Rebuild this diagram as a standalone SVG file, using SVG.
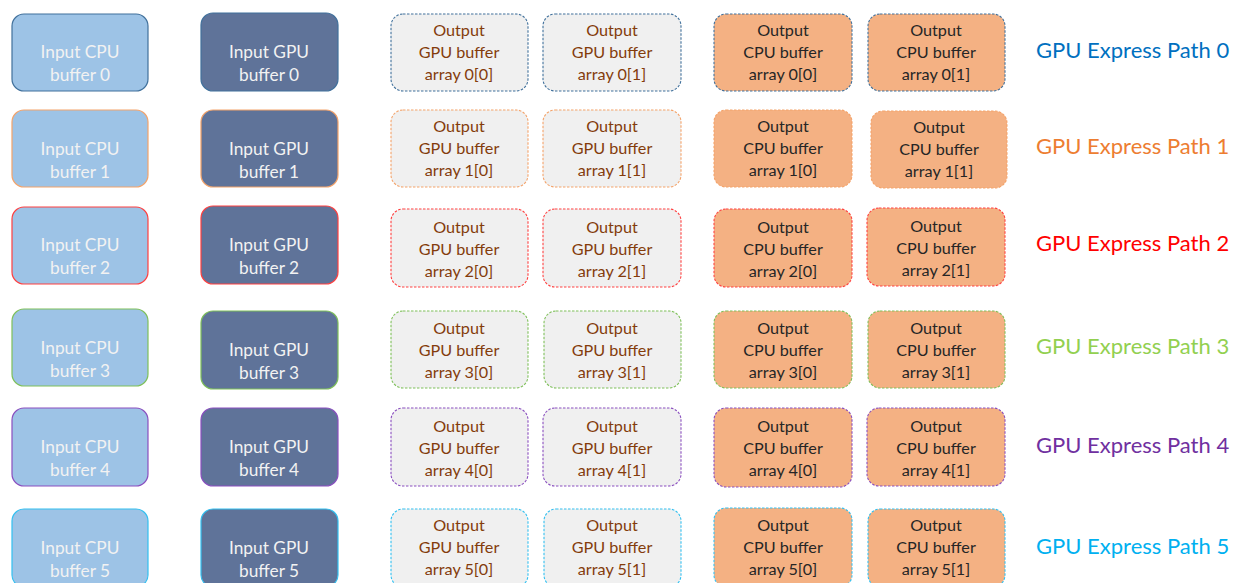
<svg xmlns="http://www.w3.org/2000/svg" width="1234" height="583" viewBox="0 0 1234 583">
<style>
text{font-family:Lato,"Open Sans","Liberation Sans",sans-serif;text-anchor:middle;}
.box{stroke-width:1.2;}
.icpu{fill:#9DC3E6;}
.igpu{fill:#5F7399;}
.ogpu{fill:#F0F0F0;stroke-dasharray:2.5 1.5;stroke-width:1.1;}
.ocpu{fill:#F4B183;stroke-dasharray:2.5 1.5;stroke-width:1.1;}
.ti{fill:#F2F2F2;font-size:17.3px;}
.tg{fill:#843C0C;font-size:16.2px;}
.tc{fill:#262626;font-size:16.2px;}
.lab{font-size:22px;text-anchor:start;}
.r0{stroke:#41719C;} .r1{stroke:#F4A36A;} .r2{stroke:#FF4040;} .r3{stroke:#7FC05A;} .r4{stroke:#8A4FBF;} .r5{stroke:#33C0F0;}
</style>
<rect width="1234" height="583" fill="#FFFFFF"/>
<g id="connectors"></g>

<!-- Row 0 -->
<g id="in-cpu-0"><rect class="box icpu r0" x="12" y="14" width="136" height="77" rx="12"/><text class="ti" x="80" y="58">Input CPU</text><text class="ti" x="80" y="81">buffer 0</text></g>
<g id="in-gpu-0"><rect class="box igpu r0" x="201" y="13" width="137" height="78" rx="12"/><text class="ti" x="269" y="58">Input GPU</text><text class="ti" x="269" y="81">buffer 0</text></g>
<g id="out-gpu-0-0"><rect class="box ogpu r0" x="391" y="14" width="137" height="77" rx="12"/><text class="tg" x="459" y="36">Output</text><text class="tg" x="459" y="58">GPU buffer</text><text class="tg" x="459" y="80">array 0[0]</text></g>
<g id="out-gpu-0-1"><rect class="box ogpu r0" x="543" y="14" width="138" height="77" rx="12"/><text class="tg" x="612" y="36">Output</text><text class="tg" x="612" y="58">GPU buffer</text><text class="tg" x="612" y="80">array 0[1]</text></g>
<g id="out-cpu-0-0"><rect class="box ocpu r0" x="714" y="14" width="138" height="77" rx="12"/><text class="tc" x="783" y="36">Output</text><text class="tc" x="783" y="58">CPU buffer</text><text class="tc" x="783" y="80">array 0[0]</text></g>
<g id="out-cpu-0-1"><rect class="box ocpu r0" x="868" y="14" width="137" height="77" rx="12"/><text class="tc" x="936" y="36">Output</text><text class="tc" x="936" y="58">CPU buffer</text><text class="tc" x="936" y="80">array 0[1]</text></g>
<g id="label-0"><text class="lab" x="1036" y="58" fill="#0070C0">GPU Express Path 0</text></g>

<!-- Row 1 -->
<g id="in-cpu-1"><rect class="box icpu r1" x="12" y="110" width="136" height="77" rx="12"/><text class="ti" x="80" y="155">Input CPU</text><text class="ti" x="80" y="178">buffer 1</text></g>
<g id="in-gpu-1"><rect class="box igpu r1" x="201" y="110" width="137" height="77" rx="12"/><text class="ti" x="269" y="155">Input GPU</text><text class="ti" x="269" y="178">buffer 1</text></g>
<g id="out-gpu-1-0"><rect class="box ogpu r1" x="391" y="110" width="137" height="77" rx="12"/><text class="tg" x="459" y="132">Output</text><text class="tg" x="459" y="154">GPU buffer</text><text class="tg" x="459" y="176">array 1[0]</text></g>
<g id="out-gpu-1-1"><rect class="box ogpu r1" x="543" y="110" width="138" height="77" rx="12"/><text class="tg" x="612" y="132">Output</text><text class="tg" x="612" y="154">GPU buffer</text><text class="tg" x="612" y="176">array 1[1]</text></g>
<g id="out-cpu-1-0"><rect class="box ocpu r1" x="714" y="110" width="138" height="77" rx="12"/><text class="tc" x="783" y="132">Output</text><text class="tc" x="783" y="154">CPU buffer</text><text class="tc" x="783" y="176">array 1[0]</text></g>
<g id="out-cpu-1-1"><rect class="box ocpu r1" x="871" y="111" width="136" height="77" rx="12"/><text class="tc" x="939" y="133">Output</text><text class="tc" x="939" y="155">CPU buffer</text><text class="tc" x="939" y="177">array 1[1]</text></g>
<g id="label-1"><text class="lab" x="1036" y="154" fill="#ED7D31">GPU Express Path 1</text></g>

<!-- Row 2 -->
<g id="in-cpu-2"><rect class="box icpu r2" x="12" y="207" width="136" height="77" rx="12"/><text class="ti" x="80" y="251">Input CPU</text><text class="ti" x="80" y="274">buffer 2</text></g>
<g id="in-gpu-2"><rect class="box igpu r2" x="201" y="206" width="137" height="78" rx="12"/><text class="ti" x="269" y="251">Input GPU</text><text class="ti" x="269" y="274">buffer 2</text></g>
<g id="out-gpu-2-0"><rect class="box ogpu r2" x="391" y="209" width="137" height="78" rx="12"/><text class="tg" x="459" y="233">Output</text><text class="tg" x="459" y="255">GPU buffer</text><text class="tg" x="459" y="277">array 2[0]</text></g>
<g id="out-gpu-2-1"><rect class="box ogpu r2" x="543" y="209" width="138" height="78" rx="12"/><text class="tg" x="612" y="233">Output</text><text class="tg" x="612" y="255">GPU buffer</text><text class="tg" x="612" y="277">array 2[1]</text></g>
<g id="out-cpu-2-0"><rect class="box ocpu r2" x="714" y="209" width="138" height="78" rx="12"/><text class="tc" x="783" y="233">Output</text><text class="tc" x="783" y="255">CPU buffer</text><text class="tc" x="783" y="277">array 2[0]</text></g>
<g id="out-cpu-2-1"><rect class="box ocpu r2" x="867" y="208" width="138" height="78" rx="12"/><text class="tc" x="936" y="232">Output</text><text class="tc" x="936" y="254">CPU buffer</text><text class="tc" x="936" y="276">array 2[1]</text></g>
<g id="label-2"><text class="lab" x="1036" y="251" fill="#FF0000">GPU Express Path 2</text></g>

<!-- Row 3 -->
<g id="in-cpu-3"><rect class="box icpu r3" x="12" y="309" width="136" height="77" rx="12"/><text class="ti" x="80" y="354">Input CPU</text><text class="ti" x="80" y="377">buffer 3</text></g>
<g id="in-gpu-3"><rect class="box igpu r3" x="201" y="311" width="137" height="78" rx="12"/><text class="ti" x="269" y="356">Input GPU</text><text class="ti" x="269" y="379">buffer 3</text></g>
<g id="out-gpu-3-0"><rect class="box ogpu r3" x="391" y="311" width="137" height="77" rx="12"/><text class="tg" x="459" y="334">Output</text><text class="tg" x="459" y="356">GPU buffer</text><text class="tg" x="459" y="378">array 3[0]</text></g>
<g id="out-gpu-3-1"><rect class="box ogpu r3" x="544" y="311" width="137" height="77" rx="12"/><text class="tg" x="612" y="334">Output</text><text class="tg" x="612" y="356">GPU buffer</text><text class="tg" x="612" y="378">array 3[1]</text></g>
<g id="out-cpu-3-0"><rect class="box ocpu r3" x="714" y="311" width="138" height="77" rx="12"/><text class="tc" x="783" y="334">Output</text><text class="tc" x="783" y="356">CPU buffer</text><text class="tc" x="783" y="378">array 3[0]</text></g>
<g id="out-cpu-3-1"><rect class="box ocpu r3" x="868" y="311" width="137" height="77" rx="12"/><text class="tc" x="936" y="334">Output</text><text class="tc" x="936" y="356">CPU buffer</text><text class="tc" x="936" y="378">array 3[1]</text></g>
<g id="label-3"><text class="lab" x="1036" y="354" fill="#92D050">GPU Express Path 3</text></g>

<!-- Row 4 -->
<g id="in-cpu-4"><rect class="box icpu r4" x="12" y="408" width="136" height="78" rx="12"/><text class="ti" x="80" y="453">Input CPU</text><text class="ti" x="80" y="476">buffer 4</text></g>
<g id="in-gpu-4"><rect class="box igpu r4" x="201" y="408" width="137" height="78" rx="12"/><text class="ti" x="269" y="453">Input GPU</text><text class="ti" x="269" y="476">buffer 4</text></g>
<g id="out-gpu-4-0"><rect class="box ogpu r4" x="391" y="408" width="137" height="78" rx="12"/><text class="tg" x="459" y="432">Output</text><text class="tg" x="459" y="454">GPU buffer</text><text class="tg" x="459" y="476">array 4[0]</text></g>
<g id="out-gpu-4-1"><rect class="box ogpu r4" x="543" y="408" width="138" height="78" rx="12"/><text class="tg" x="612" y="432">Output</text><text class="tg" x="612" y="454">GPU buffer</text><text class="tg" x="612" y="476">array 4[1]</text></g>
<g id="out-cpu-4-0"><rect class="box ocpu r4" x="714" y="408" width="138" height="79" rx="12"/><text class="tc" x="783" y="432">Output</text><text class="tc" x="783" y="454">CPU buffer</text><text class="tc" x="783" y="476">array 4[0]</text></g>
<g id="out-cpu-4-1"><rect class="box ocpu r4" x="867" y="408" width="138" height="78" rx="12"/><text class="tc" x="936" y="432">Output</text><text class="tc" x="936" y="454">CPU buffer</text><text class="tc" x="936" y="476">array 4[1]</text></g>
<g id="label-4"><text class="lab" x="1036" y="453" fill="#7030A0">GPU Express Path 4</text></g>

<!-- Row 5 -->
<g id="in-cpu-5"><rect class="box icpu r5" x="12" y="509" width="136" height="78" rx="12"/><text class="ti" x="80" y="554">Input CPU</text><text class="ti" x="80" y="577">buffer 5</text></g>
<g id="in-gpu-5"><rect class="box igpu r5" x="201" y="509" width="137" height="78" rx="12"/><text class="ti" x="269" y="554">Input GPU</text><text class="ti" x="269" y="577">buffer 5</text></g>
<g id="out-gpu-5-0"><rect class="box ogpu r5" x="391" y="509" width="137" height="78" rx="12"/><text class="tg" x="459" y="531">Output</text><text class="tg" x="459" y="553">GPU buffer</text><text class="tg" x="459" y="575">array 5[0]</text></g>
<g id="out-gpu-5-1"><rect class="box ogpu r5" x="544" y="509" width="137" height="78" rx="12"/><text class="tg" x="612" y="531">Output</text><text class="tg" x="612" y="553">GPU buffer</text><text class="tg" x="612" y="575">array 5[1]</text></g>
<g id="out-cpu-5-0"><rect class="box ocpu r5" x="714" y="508" width="138" height="79" rx="12"/><text class="tc" x="783" y="531">Output</text><text class="tc" x="783" y="553">CPU buffer</text><text class="tc" x="783" y="575">array 5[0]</text></g>
<g id="out-cpu-5-1"><rect class="box ocpu r5" x="868" y="509" width="137" height="78" rx="12"/><text class="tc" x="936" y="531">Output</text><text class="tc" x="936" y="553">CPU buffer</text><text class="tc" x="936" y="575">array 5[1]</text></g>
<g id="label-5"><text class="lab" x="1036" y="554" fill="#00B0F0">GPU Express Path 5</text></g>
</svg>
